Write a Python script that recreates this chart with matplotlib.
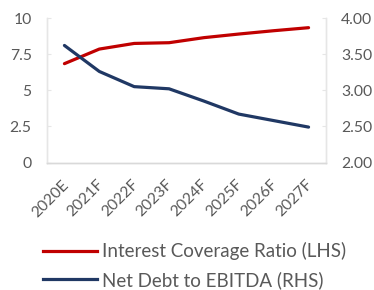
import matplotlib
matplotlib.use("Agg")
import matplotlib.pyplot as plt
from matplotlib.lines import Line2D

years = ["2020E", "2021F", "2022F", "2023F", "2024F", "2025F", "2026F", "2027F"]
interest_cover = [6.84, 7.85, 8.24, 8.29, 8.64, 8.89, 9.12, 9.33]
net_debt_ebitda = [3.62, 3.26, 3.05, 3.02, 2.85, 2.67, 2.58, 2.49]

red = "#C00000"
navy = "#203864"
grey = "#595959"
plt.rcParams['font.family'] = ['Lato', 'DejaVu Sans']

fig = plt.figure(figsize=(3.74, 2.9), dpi=100)
ax = fig.add_axes([47 / 374, 1 - 162.5 / 290, 279 / 374, 144.5 / 290])
ax2 = ax.twinx()

x = list(range(len(years)))
ax.plot(x, interest_cover, color=red, lw=2.3, solid_capstyle="round")
ax2.plot(x, net_debt_ebitda, color=navy, lw=2.3, solid_capstyle="round")

ax.set_xlim(-0.5, 7.5)
ax.set_ylim(0, 10)
ax.set_yticks([0, 2.5, 5, 7.5, 10])
ax.set_yticklabels(["0", "2.5", "5", "7.5", "10"])
ax2.set_ylim(2, 4)
ax2.set_yticks([2, 2.5, 3, 3.5, 4])
ax2.set_yticklabels(["2.00", "2.50", "3.00", "3.50", "4.00"])

# rotated category labels, ends placed at the tick like excel does
ax.set_xticks(x)
ax.set_xticklabels([])
for i, yr in enumerate(years):
    ax.annotate(yr, xy=(i, 0), xycoords=("data", "axes fraction"),
                xytext=(-3, -15), textcoords="offset pixels",
                rotation=45, ha="right", va="top", rotation_mode="anchor",
                fontsize=11.3, color=grey, annotation_clip=False)

for a in (ax, ax2):
    a.spines["top"].set_visible(False)
    a.spines["left"].set_color("#E6E6E6")
    a.spines["right"].set_color("#E6E6E6")
    a.spines["bottom"].set_color("#D9D9D9")
    for s in a.spines.values():
        s.set_linewidth(1.0)
    a.tick_params(axis="y", direction="in", colors="#E6E6E6", labelcolor=grey,
                  labelsize=11.3, length=3, pad=11)
    a.tick_params(axis="x", length=0)

handles = [Line2D([], [], color=red, lw=2.3), Line2D([], [], color=navy, lw=2.3)]
labels = ["Interest Coverage Ratio (LHS)", "Net Debt to EBITDA (RHS)"]
fig.legend(handles, labels, loc="upper left", bbox_to_anchor=(43 / 374, 1 - 242 / 290),
           frameon=False, fontsize=13.5, labelcolor=grey, handlelength=2.9,
           handletextpad=0.27, labelspacing=0.59, borderpad=0, borderaxespad=0)

fig.savefig("out.png", dpi=100)
